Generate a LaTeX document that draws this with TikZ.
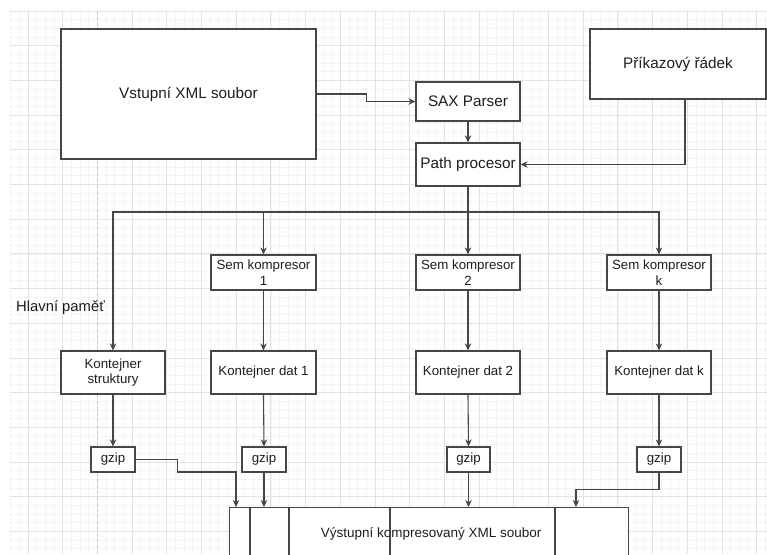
\documentclass[tikz,border=0pt]{standalone}
\usepackage{fontspec}
\setmainfont{Liberation Sans}
\usetikzlibrary{arrows.meta,calc}
\definecolor{gridminor}{RGB}{244,244,244}
\definecolor{gridmajor}{RGB}{226,226,226}
\definecolor{sepcol}{RGB}{200,200,200}
\definecolor{edge}{RGB}{70,70,70}
\definecolor{txt}{RGB}{30,30,30}
\begin{document}
\begin{tikzpicture}[x=1pt,y=-1pt,
  box/.style={draw=edge,line width=1.2pt,fill=white,text=txt,align=center,inner sep=0pt},
  bigf/.style={font=\fontsize{15.3}{18}\selectfont},
  smallf/.style={font=\fontsize{13.3}{15.5}\selectfont},
  arr/.style={draw=edge,line width=1.1pt,-{Stealth[length=7pt,width=6.5pt]}},
  ln/.style={draw=edge,line width=1.1pt}]
\useasboundingbox (0,0) rectangle (767,554);
\fill[white] (0,0) rectangle (767,554);
% grid
\foreach \i in {0,...,87} \draw[gridminor,line width=0.8pt] ({10.65+8.675*\i},11) -- ({10.65+8.675*\i},554);
\foreach \j in {0,...,62} \draw[gridminor,line width=0.8pt] (10,{11+8.675*\j}) -- (767,{11+8.675*\j});
\foreach \k in {0,...,21} \draw[gridmajor,line width=0.9pt] ({28+34.7*\k},11) -- ({28+34.7*\k},554);
\foreach \k in {0,...,15} \draw[gridmajor,line width=0.9pt] (10,{11+34.7*\k}) -- (767,{11+34.7*\k});
\draw[sepcol,line width=0.9pt,dash pattern=on 3pt off 3pt] (97.5,11) -- (97.5,554);

% nodes
\node[box,bigf,minimum width=255,minimum height=130] (in) at (188.5,94) {Vstupní XML soubor};
\node[box,bigf,minimum width=176,minimum height=70] (cmd) at (678,64) {Příkazový řádek};
\node[box,bigf,minimum width=104,minimum height=39] (sax) at (468,101.5) {SAX Parser};
\node[box,bigf,minimum width=104,minimum height=43] (path) at (468,164.5) {Path procesor};

\node[box,smallf,minimum width=105,minimum height=35] (sem1) at (263.5,272.5) {Sem kompresor\\1};
\node[box,smallf,minimum width=104,minimum height=35] (sem2) at (468,272.5) {Sem kompresor\\2};
\node[box,smallf,minimum width=104,minimum height=35] (semk) at (659,272.5) {Sem kompresor\\k};

\node[box,smallf,minimum width=104,minimum height=43] (ks) at (113,372.5) {Kontejner\\struktury};
\node[box,smallf,minimum width=105,minimum height=43] (kd1) at (263.5,372.5) {Kontejner dat 1};
\node[box,smallf,minimum width=104,minimum height=43] (kd2) at (468,372.5) {Kontejner dat 2};
\node[box,smallf,minimum width=104,minimum height=43] (kdk) at (659,372.5) {Kontejner dat k};

\node[box,smallf,minimum width=44,minimum height=25] (g0) at (113,459.5) {gzip};
\node[box,smallf,minimum width=44,minimum height=25] (g1) at (264,459.5) {gzip};
\node[box,smallf,minimum width=43,minimum height=25] (g2) at (468.5,459.5) {gzip};
\node[box,smallf,minimum width=44,minimum height=25] (gk) at (659,459.5) {gzip};

\node[box,font=\fontsize{13.5}{16}\selectfont,minimum width=399,minimum height=52,anchor=north west] (out) at (229,507) {\hspace*{4pt}Výstupní kompresovaný XML soubor};
\foreach \xx in {250,289,390,555} \draw[ln] (\xx,0 |- out.north) -- (\xx,0 |- out.south);

\node[text=txt,font=\fontsize{14.8}{17}\selectfont,anchor=west,inner sep=0pt] (mem) at (16,308) {Hlavní paměť};

% connectors
\draw[arr] (in.east) -- ++(50,0) |- (sax.west);
\draw[arr] (sax.south) -- (path.north);
\draw[arr] ([xshift=7pt]cmd.south) |- (path.east);
\coordinate (bus) at (468,212);
\draw[arr] (path.south) -- (sem2.north);
\draw[arr] (bus) -| (ks.north);
\draw[arr] (bus) -| (sem1.north);
\draw[arr] (bus) -| (semk.north);

\draw[arr] (sem1.south) -- (kd1.north);
\draw[arr] (sem2.south) -- (kd2.north);
\draw[arr] (semk.south) -- (kdk.north);

\draw[arr] (ks.south) -- (g0.north);
\draw[arr] (kd1.south) -- (g1.north);
\draw[arr] (kd2.south) -- (g2.north);
\draw[arr] (kdk.south) -- (gk.north);

\draw[arr] (g0.east) -- ++(42,0) |- (236,472) -- (236,0 |- out.north);
\draw[arr] (g1.south) -- (g1.south |- out.north);
\draw[arr] (g2.south) -- (g2.south |- out.north);
\draw[arr] (gk.south) -- ++(0,17) -| (576,0 |- out.north);
\end{tikzpicture}
\end{document}
